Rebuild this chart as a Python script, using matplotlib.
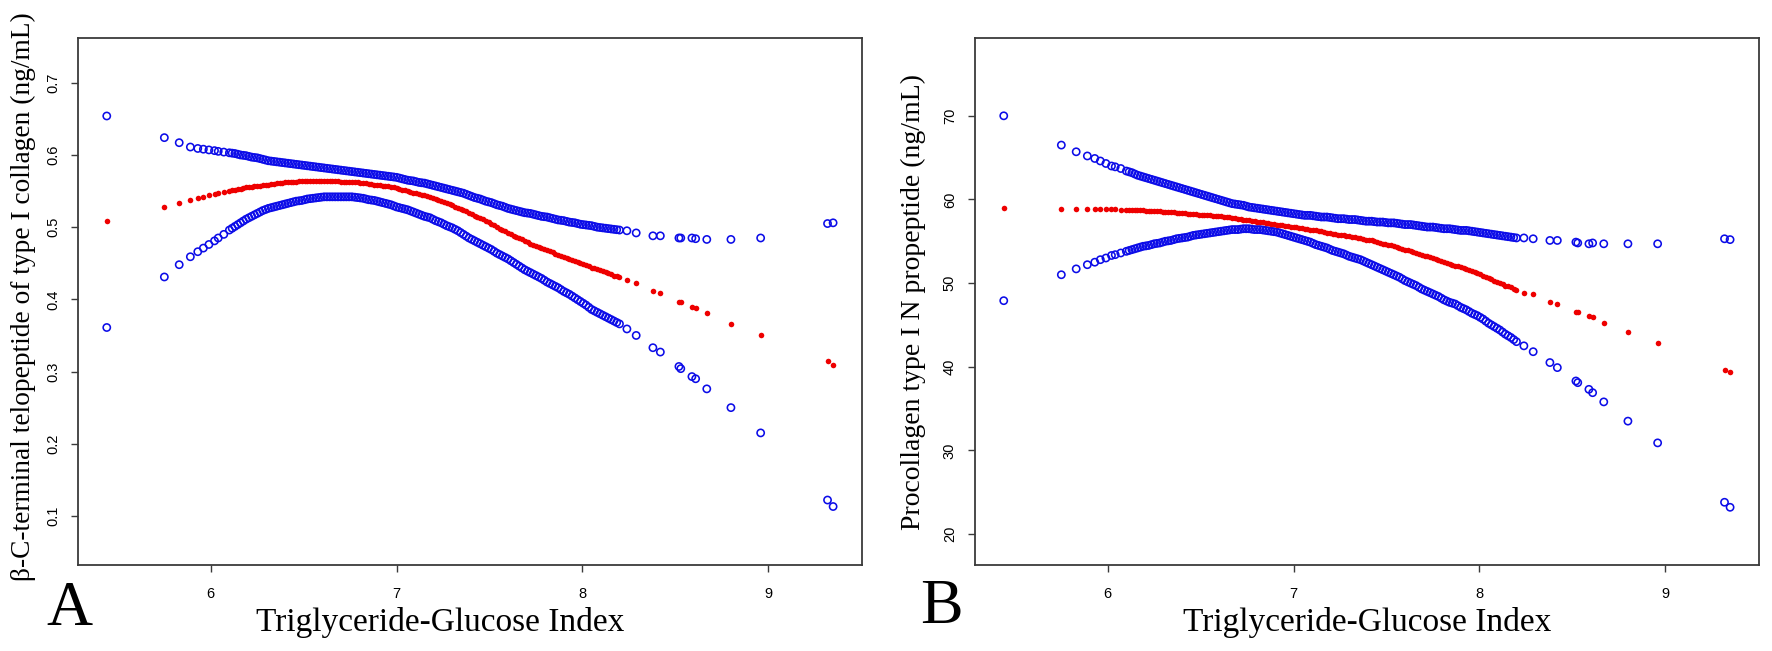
import matplotlib
matplotlib.use("Agg")
import matplotlib.pyplot as plt

# TyG index of each subject (shared by both panels)
tyg = [5.44, 5.75, 5.83, 5.89, 5.93, 5.96, 5.99, 6.02, 6.04, 6.07,
       6.10, 6.13, 6.16, 6.19, 6.22, 6.25, 6.28, 6.31, 6.34, 6.37,
       6.40, 6.43, 6.46, 6.49, 6.52, 6.55, 6.58, 6.61, 6.64, 6.67,
       6.70, 6.73, 6.76, 6.79, 6.82, 6.85, 6.88, 6.91, 6.94, 6.97,
       7.00, 7.03, 7.06, 7.09, 7.12, 7.15, 7.18, 7.21, 7.24, 7.27,
       7.30, 7.33, 7.36, 7.39, 7.42, 7.45, 7.48, 7.51, 7.54, 7.57,
       7.60, 7.63, 7.66, 7.69, 7.72, 7.75, 7.78, 7.81, 7.84, 7.87,
       7.90, 7.93, 7.96, 7.99, 8.02, 8.05, 8.08, 8.11, 8.14, 8.17,
       8.20, 8.24, 8.29, 8.38, 8.42, 8.52, 8.53, 8.59, 8.61, 8.67,
       8.80, 8.96, 9.32, 9.35]
# more subjects in the crowded middle of the range
tyg_dense = [6.115, 6.145, 6.175, 6.205, 6.235, 6.265, 6.295, 6.325, 6.355, 6.385,
             6.415, 6.445, 6.475, 6.505, 6.535, 6.565, 6.595, 6.625, 6.655, 6.685,
             6.715, 6.745, 6.775, 6.805, 6.835, 6.865, 6.895, 6.925, 6.955, 6.985,
             7.015, 7.045, 7.075, 7.105, 7.135, 7.165, 7.195, 7.225, 7.255, 7.285,
             7.315, 7.345, 7.375, 7.405, 7.435, 7.465, 7.495, 7.525, 7.555, 7.585,
             7.615, 7.645, 7.675, 7.705, 7.735, 7.765, 7.795, 7.825, 7.855, 7.885,
             7.915, 7.945, 7.975, 8.005, 8.035, 8.065, 8.095, 8.125, 8.155, 8.185]

# panel A: beta-CTX fit and 95% CI
ctx_upper = [0.654, 0.624, 0.617, 0.611, 0.609, 0.608, 0.607, 0.606, 0.605, 0.604,
             0.603, 0.602, 0.600, 0.599, 0.597, 0.596, 0.594, 0.592, 0.591, 0.590,
             0.589, 0.588, 0.587, 0.586, 0.585, 0.584, 0.583, 0.582, 0.581, 0.580,
             0.579, 0.578, 0.577, 0.576, 0.575, 0.574, 0.573, 0.572, 0.571, 0.570,
             0.569, 0.567, 0.565, 0.564, 0.562, 0.561, 0.559, 0.557, 0.555, 0.553,
             0.551, 0.549, 0.547, 0.544, 0.541, 0.539, 0.536, 0.534, 0.531, 0.529,
             0.526, 0.524, 0.522, 0.520, 0.519, 0.517, 0.515, 0.514, 0.512, 0.510,
             0.509, 0.507, 0.506, 0.504, 0.503, 0.502, 0.500, 0.499, 0.498, 0.497,
             0.496, 0.495, 0.492, 0.488, 0.488, 0.485, 0.485, 0.485, 0.484, 0.483,
             0.483, 0.485, 0.505, 0.506]
ctx_fit = [0.508, 0.528, 0.534, 0.537, 0.540, 0.542, 0.544, 0.546, 0.547, 0.549,
           0.550, 0.552, 0.553, 0.555, 0.556, 0.557, 0.558, 0.559, 0.560, 0.561,
           0.562, 0.563, 0.563, 0.564, 0.564, 0.564, 0.564, 0.564, 0.564, 0.564,
           0.563, 0.563, 0.563, 0.562, 0.561, 0.560, 0.559, 0.558, 0.557, 0.556,
           0.554, 0.552, 0.550, 0.548, 0.546, 0.544, 0.542, 0.539, 0.536, 0.533,
           0.530, 0.527, 0.524, 0.520, 0.516, 0.513, 0.509, 0.505, 0.500, 0.496,
           0.492, 0.488, 0.485, 0.481, 0.477, 0.474, 0.471, 0.468, 0.465, 0.462,
           0.459, 0.456, 0.453, 0.450, 0.447, 0.444, 0.442, 0.439, 0.436, 0.433,
           0.431, 0.427, 0.423, 0.412, 0.409, 0.397, 0.396, 0.390, 0.388, 0.381,
           0.366, 0.351, 0.314, 0.309]
ctx_lower = [0.361, 0.431, 0.448, 0.459, 0.466, 0.471, 0.476, 0.481, 0.485, 0.490,
             0.496, 0.501, 0.506, 0.511, 0.515, 0.519, 0.523, 0.526, 0.528, 0.530,
             0.532, 0.534, 0.536, 0.537, 0.539, 0.540, 0.541, 0.542, 0.542, 0.542,
             0.542, 0.542, 0.542, 0.541, 0.540, 0.538, 0.537, 0.535, 0.533, 0.531,
             0.528, 0.526, 0.524, 0.521, 0.518, 0.515, 0.513, 0.509, 0.506, 0.502,
             0.499, 0.495, 0.490, 0.485, 0.481, 0.477, 0.473, 0.469, 0.464, 0.460,
             0.456, 0.451, 0.446, 0.441, 0.437, 0.433, 0.429, 0.424, 0.420, 0.416,
             0.411, 0.407, 0.402, 0.397, 0.392, 0.386, 0.382, 0.378, 0.374, 0.370,
             0.366, 0.359, 0.350, 0.333, 0.327, 0.307, 0.304, 0.293, 0.290, 0.276,
             0.250, 0.215, 0.122, 0.113]
ctx_upper_dense = [0.6025, 0.601, 0.5995, 0.598, 0.5965, 0.595, 0.593, 0.5915, 0.5905, 0.5895,
                   0.5885, 0.5875, 0.5865, 0.5855, 0.5845, 0.5835, 0.5825, 0.5815, 0.5805, 0.5795,
                   0.5785, 0.5775, 0.5765, 0.5755, 0.5745, 0.5735, 0.5725, 0.5715, 0.5705, 0.5695,
                   0.568, 0.566, 0.5645, 0.563, 0.5615, 0.560, 0.558, 0.556, 0.554, 0.552,
                   0.550, 0.548, 0.5455, 0.5425, 0.540, 0.5375, 0.535, 0.5325, 0.530, 0.5275,
                   0.525, 0.523, 0.521, 0.5195, 0.518, 0.516, 0.5145, 0.513, 0.511, 0.5095,
                   0.508, 0.5065, 0.505, 0.5035, 0.5025, 0.501, 0.4995, 0.4985, 0.4975, 0.4965]
ctx_fit_dense = [0.551, 0.5525, 0.554, 0.5555, 0.5565, 0.5575, 0.5585, 0.5595, 0.5605, 0.5615,
                 0.5625, 0.563, 0.5635, 0.564, 0.564, 0.564, 0.564, 0.564, 0.564, 0.5635,
                 0.563, 0.563, 0.5625, 0.5615, 0.5605, 0.5595, 0.5585, 0.5575, 0.5565, 0.555,
                 0.553, 0.551, 0.549, 0.547, 0.545, 0.543, 0.5405, 0.5375, 0.5345, 0.5315,
                 0.5285, 0.5255, 0.522, 0.518, 0.5145, 0.511, 0.507, 0.5025, 0.498, 0.494,
                 0.490, 0.4865, 0.483, 0.479, 0.4755, 0.4725, 0.4695, 0.4665, 0.4635, 0.4605,
                 0.4575, 0.4545, 0.4515, 0.4485, 0.4455, 0.443, 0.4405, 0.4375, 0.4345, 0.432]
ctx_lower_dense = [0.4985, 0.5035, 0.5085, 0.513, 0.517, 0.521, 0.5245, 0.527, 0.529, 0.531,
                   0.533, 0.535, 0.5365, 0.538, 0.5395, 0.5405, 0.5415, 0.542, 0.542, 0.542,
                   0.542, 0.542, 0.5415, 0.5405, 0.539, 0.5375, 0.536, 0.534, 0.532, 0.5295,
                   0.527, 0.525, 0.5225, 0.5195, 0.5165, 0.514, 0.511, 0.5075, 0.504, 0.5005,
                   0.497, 0.4925, 0.4875, 0.483, 0.479, 0.475, 0.471, 0.4665, 0.462, 0.458,
                   0.4535, 0.4485, 0.4435, 0.439, 0.435, 0.431, 0.4265, 0.422, 0.418, 0.4135,
                   0.409, 0.4045, 0.3995, 0.3945, 0.389, 0.384, 0.380, 0.376, 0.372, 0.368]

# panel B: P1NP fit and 95% CI
p1np_upper = [70.0, 66.5, 65.7, 65.2, 64.9, 64.6, 64.3, 64.0, 63.9, 63.7,
              63.4, 63.2, 62.9, 62.7, 62.5, 62.3, 62.1, 61.9, 61.7, 61.5,
              61.3, 61.1, 60.9, 60.7, 60.5, 60.3, 60.1, 59.9, 59.7, 59.5,
              59.4, 59.3, 59.1, 59.0, 58.9, 58.8, 58.7, 58.6, 58.5, 58.4,
              58.3, 58.2, 58.1, 58.1, 58.0, 57.9, 57.9, 57.8, 57.7, 57.7,
              57.6, 57.6, 57.5, 57.4, 57.4, 57.3, 57.3, 57.2, 57.2, 57.1,
              57.0, 57.0, 56.9, 56.8, 56.7, 56.7, 56.6, 56.5, 56.5, 56.4,
              56.3, 56.3, 56.2, 56.1, 56.0, 55.9, 55.8, 55.7, 55.6, 55.5,
              55.4, 55.4, 55.3, 55.1, 55.1, 54.9, 54.8, 54.7, 54.8, 54.7,
              54.7, 54.7, 55.3, 55.2]
p1np_fit = [59.0, 58.8, 58.8, 58.8, 58.8, 58.8, 58.8, 58.8, 58.8, 58.7,
            58.7, 58.7, 58.7, 58.7, 58.6, 58.6, 58.6, 58.5, 58.5, 58.4,
            58.4, 58.3, 58.3, 58.2, 58.2, 58.1, 58.0, 58.0, 57.9, 57.8,
            57.7, 57.6, 57.5, 57.4, 57.3, 57.2, 57.1, 57.0, 56.9, 56.8,
            56.7, 56.6, 56.5, 56.4, 56.3, 56.2, 56.0, 55.9, 55.8, 55.7,
            55.6, 55.5, 55.4, 55.2, 55.1, 54.9, 54.7, 54.6, 54.4, 54.2,
            54.0, 53.8, 53.6, 53.4, 53.2, 53.0, 52.8, 52.5, 52.3, 52.1,
            51.9, 51.7, 51.5, 51.2, 50.9, 50.6, 50.3, 50.0, 49.7, 49.5,
            49.2, 48.8, 48.7, 47.8, 47.5, 46.6, 46.5, 46.1, 45.9, 45.2,
            44.2, 42.8, 39.6, 39.4]
p1np_lower = [47.9, 51.0, 51.7, 52.2, 52.5, 52.8, 53.0, 53.3, 53.4, 53.6,
              53.8, 54.0, 54.2, 54.4, 54.5, 54.7, 54.8, 55.0, 55.1, 55.3,
              55.4, 55.5, 55.7, 55.8, 55.9, 56.0, 56.1, 56.2, 56.3, 56.4,
              56.4, 56.5, 56.5, 56.4, 56.4, 56.3, 56.2, 56.1, 55.9, 55.7,
              55.5, 55.3, 55.1, 54.9, 54.6, 54.4, 54.2, 53.9, 53.7, 53.5,
              53.2, 53.0, 52.8, 52.5, 52.2, 51.9, 51.6, 51.3, 51.0, 50.7,
              50.3, 50.0, 49.7, 49.3, 49.0, 48.7, 48.4, 48.0, 47.7, 47.5,
              47.1, 46.8, 46.4, 46.1, 45.7, 45.2, 44.8, 44.4, 43.9, 43.5,
              43.0, 42.5, 41.8, 40.5, 39.9, 38.3, 38.1, 37.3, 36.9, 35.8,
              33.5, 30.9, 23.8, 23.2]
p1np_upper_dense = [63.3, 63.05, 62.8, 62.6, 62.4, 62.2, 62.0, 61.8, 61.6, 61.4,
                    61.2, 61.0, 60.8, 60.6, 60.4, 60.2, 60.0, 59.8, 59.6, 59.45,
                    59.35, 59.2, 59.05, 58.95, 58.85, 58.75, 58.65, 58.55, 58.45, 58.35,
                    58.25, 58.15, 58.1, 58.05, 57.95, 57.9, 57.85, 57.75, 57.7, 57.65,
                    57.6, 57.55, 57.45, 57.4, 57.35, 57.3, 57.25, 57.2, 57.15, 57.05,
                    57.0, 56.95, 56.85, 56.75, 56.7, 56.65, 56.55, 56.5, 56.45, 56.35,
                    56.3, 56.25, 56.15, 56.05, 55.95, 55.85, 55.75, 55.65, 55.55, 55.45]
p1np_fit_dense = [58.7, 58.7, 58.7, 58.65, 58.6, 58.6, 58.55, 58.5, 58.45, 58.4,
                  58.35, 58.3, 58.25, 58.2, 58.15, 58.05, 58.0, 57.95, 57.85, 57.75,
                  57.65, 57.55, 57.45, 57.35, 57.25, 57.15, 57.05, 56.95, 56.85, 56.75,
                  56.65, 56.55, 56.45, 56.35, 56.25, 56.1, 55.95, 55.85, 55.75, 55.65,
                  55.55, 55.45, 55.3, 55.15, 55.0, 54.8, 54.65, 54.5, 54.3, 54.1,
                  53.9, 53.7, 53.5, 53.3, 53.1, 52.9, 52.65, 52.4, 52.2, 52.0,
                  51.8, 51.6, 51.35, 51.05, 50.75, 50.45, 50.15, 49.85, 49.6, 49.35]
p1np_lower_dense = [53.9, 54.1, 54.3, 54.45, 54.6, 54.75, 54.9, 55.05, 55.2, 55.35,
                    55.45, 55.6, 55.75, 55.85, 55.95, 56.05, 56.15, 56.25, 56.35, 56.4,
                    56.45, 56.5, 56.45, 56.4, 56.35, 56.25, 56.15, 56.0, 55.8, 55.6,
                    55.4, 55.2, 55.0, 54.75, 54.5, 54.3, 54.05, 53.8, 53.6, 53.35,
                    53.1, 52.9, 52.65, 52.35, 52.05, 51.75, 51.45, 51.15, 50.85, 50.5,
                    50.15, 49.85, 49.5, 49.15, 48.85, 48.55, 48.2, 47.85, 47.6, 47.3,
                    46.95, 46.6, 46.25, 45.9, 45.45, 45.0, 44.6, 44.15, 43.7, 43.25]

x_ticks = [6, 7, 8, 9]
ctx_ticks = [0.1, 0.2, 0.3, 0.4, 0.5, 0.6, 0.7]
p1np_ticks = [20, 30, 40, 50, 60, 70]

SERIF = "Liberation Serif"
SANS = "Liberation Sans"
BLUE = "#0c0ce8"
RED = "#ee0000"
FRAME = "#3a3a3a"

fig = plt.figure(figsize=(17.72, 6.51), dpi=100)
ax1 = fig.add_axes([0.0440, 0.1321, 0.4424, 0.8095])
ax2 = fig.add_axes([0.5502, 0.1321, 0.4424, 0.8095])

panels = [
    (ax1, ctx_upper + ctx_upper_dense, ctx_fit + ctx_fit_dense,
     ctx_lower + ctx_lower_dense, ctx_ticks, (0.032, 0.762),
     "β-C-terminal telopeptide of type I collagen (ng/mL)", -0.054, 0.51, 19.7, 0.462),
    (ax2, p1np_upper + p1np_upper_dense, p1np_fit + p1np_fit_dense,
     p1np_lower + p1np_lower_dense, p1np_ticks, (16.3, 79.3),
     "Procollagen type I N propeptide (ng/mL)", -0.063, 0.5, 20, 0.5),
]
xs = tyg + tyg_dense

for ax, up, fit, lo, yt, ylim, ylab, ylab_x, ylab_y, ylab_fs, xlab_x in panels:
    ax.scatter(xs, up, s=27, facecolors="none", edgecolors=BLUE, linewidths=1.15)
    ax.scatter(xs, lo, s=27, facecolors="none", edgecolors=BLUE, linewidths=1.15)
    ax.scatter(xs, fit, s=16, color=RED, linewidths=0)

    ax.set_xlim(5.285, 9.505)
    ax.set_ylim(*ylim)
    ax.set_xticks(x_ticks)
    ax.set_yticks(yt)
    ax.set_xticklabels([str(t) for t in x_ticks], fontfamily=SANS, fontsize=10.5)
    ax.set_yticklabels([str(t) for t in yt], fontfamily=SANS, fontsize=10.5,
                       rotation=90, va="center")
    ax.tick_params(axis="x", length=5, width=1, color=FRAME, pad=11)
    ax.tick_params(axis="y", length=5, width=1, color=FRAME, pad=8)
    for sp in ax.spines.values():
        sp.set_color(FRAME)
        sp.set_linewidth(1.3)

    ax.set_ylabel(ylab, fontfamily=SERIF, fontsize=ylab_fs)
    ax.yaxis.set_label_coords(ylab_x, ylab_y)
    ax.set_xlabel("Triglyceride-Glucose Index", fontfamily=SERIF, fontsize=24)
    ax.xaxis.set_label_coords(xlab_x, -0.080)

fig.text(46 / 1772, 1 - 625 / 651, "A", fontfamily=SERIF, fontsize=46,
         ha="left", va="baseline")
fig.text(920 / 1772, 1 - 623 / 651, "B", fontfamily=SERIF, fontsize=46,
         ha="left", va="baseline")

fig.savefig("out.png", dpi=100)
